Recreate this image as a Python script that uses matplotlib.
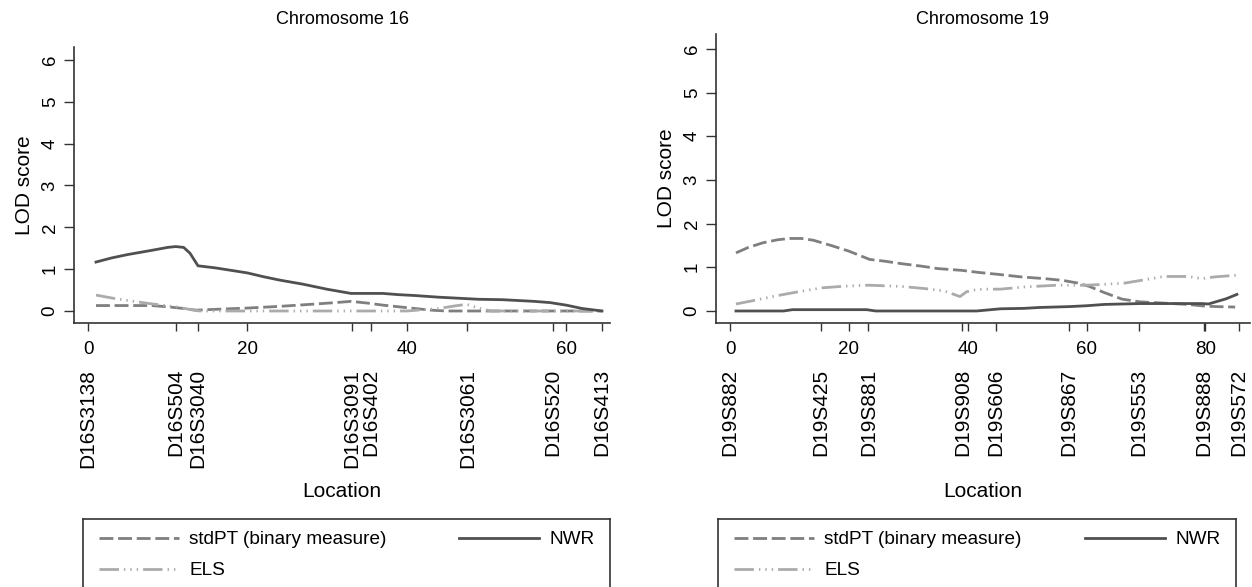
import numpy as np
import matplotlib.pyplot as plt
from matplotlib.lines import Line2D

plt.rcParams['font.family'] = ['Liberation Sans', 'DejaVu Sans']

W, H = 1252, 587

# ---- chromosome 16 ----
markers16 = ['D16S3138', 'D16S504', 'D16S3040', 'D16S3091', 'D16S402',
             'D16S3061', 'D16S520', 'D16S413']
markpos16 = [0, 11.0, 13.8, 33.1, 35.5, 47.6, 58.3, 64.5]

stdpt16_x = [1, 4, 8, 10, 12, 13.5, 16, 20, 24, 28, 31, 33, 35, 37, 39, 41, 43, 45, 50, 55, 60, 64.5]
stdpt16_y = [0.13, 0.13, 0.13, 0.10, 0.06, 0.02, 0.04, 0.07, 0.11, 0.16, 0.20, 0.23, 0.19, 0.14, 0.10, 0.06, 0.02, 0.0, 0.0, 0.0, 0.0, 0.0]

els16_x = [1, 3, 5, 8, 11, 13, 14, 20, 30, 40, 42, 44, 46, 47.5, 49, 50.5, 55, 60, 64.5]
els16_y = [0.38, 0.31, 0.25, 0.17, 0.10, 0.03, 0.0, 0.0, 0.0, 0.0, 0.03, 0.06, 0.12, 0.16, 0.07, 0.0, 0.0, 0.0, 0.0]

nwr16_x = [1, 3, 5, 8, 10, 11, 12, 12.8, 13.8, 16, 18, 20, 22, 24, 27, 30, 33, 37, 39, 41, 44, 46, 49, 52, 54, 56, 58, 60, 62, 64.5]
nwr16_y = [1.17, 1.27, 1.35, 1.45, 1.52, 1.54, 1.52, 1.38, 1.08, 1.03, 0.97, 0.91, 0.82, 0.74, 0.64, 0.52, 0.42, 0.42, 0.39, 0.37, 0.33, 0.31, 0.28, 0.27, 0.25, 0.23, 0.20, 0.14, 0.06, 0.0]

# ---- chromosome 19 ----
markers19 = ['D19S882', 'D19S425', 'D19S881', 'D19S908', 'D19S606',
             'D19S867', 'D19S553', 'D19S888', 'D19S572']
markpos19 = [0, 15.3, 23.3, 39.1, 44.7, 57.0, 68.8, 79.8, 85.6]

stdpt19_x = [1, 3, 5.5, 8, 10, 12, 14, 17, 20, 23.5, 26, 29, 32, 35, 39, 42, 45, 49, 53, 56, 58.5, 60.5, 63, 66, 69, 73, 77, 80, 82, 85]
stdpt19_y = [1.33, 1.45, 1.56, 1.63, 1.66, 1.66, 1.62, 1.50, 1.37, 1.18, 1.14, 1.08, 1.03, 0.97, 0.93, 0.88, 0.84, 0.78, 0.74, 0.70, 0.64, 0.56, 0.42, 0.27, 0.21, 0.18, 0.15, 0.11, 0.10, 0.09]

els19_x = [1, 4, 7.5, 11.5, 15.5, 19.5, 23.5, 29, 33, 36, 38.7, 39.8, 41, 42.7, 45.5, 49.5, 55, 60, 63, 66.5, 70, 73, 77, 79.5, 81.5, 85.5]
els19_y = [0.16, 0.24, 0.34, 0.44, 0.53, 0.57, 0.59, 0.56, 0.51, 0.46, 0.33, 0.44, 0.48, 0.50, 0.50, 0.55, 0.59, 0.59, 0.61, 0.64, 0.72, 0.79, 0.79, 0.74, 0.78, 0.82]

nwr19_x = [1, 9, 10.5, 23, 24.5, 41.5, 45.5, 49.5, 52, 57, 60, 63, 69, 73, 79.5, 80.5, 83.5, 85.3]
nwr19_y = [0, 0, 0.03, 0.03, 0.0, 0.0, 0.05, 0.06, 0.08, 0.10, 0.12, 0.15, 0.17, 0.17, 0.17, 0.16, 0.28, 0.38]

labels = ['stdPT (binary measure)', 'ELS', 'NWR']
colors = ['#7f7f7f', '#ababab', '#505050']
LW = 2.0
styles = [(0, (5, 1.7)), (0, (7, 1.8, 0.5, 1.8, 0.5, 1.8, 0.5, 1.8)), '-']

fig = plt.figure(figsize=(W / 100, H / 100), dpi=100)


def px_axes(x0, x1, y0, y1):
    # axes from pixel box (top-left origin)
    return fig.add_axes([x0 / W, (H - y1) / H, (x1 - x0) / W, (y1 - y0) / H])


def panel(ax, series, marks, mpos, xmajor, xlim, ylim, title, hpx, wpx):
    for (xs, ys), c, ls in zip(series, colors, styles):
        ax.plot(xs, ys, color=c, lw=LW, linestyle=ls)
    ax.set_xlim(*xlim)
    ax.set_ylim(*ylim)
    for s in ['top', 'right']:
        ax.spines[s].set_visible(False)
    for s in ['left', 'bottom']:
        ax.spines[s].set_linewidth(1.2)
        ax.spines[s].set_color('#333333')
    ax.set_xticks(xmajor)
    ax.set_xticks(mpos, minor=True)
    ax.set_yticks(range(0, 7))
    ax.tick_params(axis='x', which='both', length=5.8, width=1, color='#333333',
                   labelsize=13.5, pad=7.5)
    ax.tick_params(axis='y', length=7, width=1, color='#333333', labelsize=13.5,
                   labelrotation=90, pad=4)
    for lab in ax.get_yticklabels():
        lab.set_va('center')
    for m, p in zip(marks, mpos):
        ax.annotate(m, xy=(p, 0), xycoords=('data', 'axes fraction'),
                    xytext=(0, -33), textcoords='offset points',
                    rotation=90, ha='center', va='top', fontsize=15)
    ax.set_ylabel('LOD score', fontsize=15)
    ax.yaxis.set_label_coords(-40 / wpx, 0.5)
    ax.set_xlabel('Location', fontsize=15)
    ax.xaxis.set_label_coords(0.5, -(482 - 323) / hpx)
    pos = ax.get_position()
    fig.text(pos.x0 + pos.width / 2, 1 - 20 / H, title, ha='center', va='center',
             fontsize=13)


def legend_box(x0, x1):
    lax = px_axes(x0, x1, 519, 600)
    lax.set_xticks([])
    lax.set_yticks([])
    for s in lax.spines.values():
        s.set_linewidth(1.2)
        s.set_color('#333333')
    wl, hl = x1 - x0, 600 - 519
    handles = [Line2D([], [], color=c, lw=LW, linestyle=ls) for c, ls in zip(colors, styles)]
    lax.legend(handles, labels, ncol=2, mode='expand', loc='upper left',
               bbox_to_anchor=(16 / wl, 1 - 12 / hl, (wl - 31) / wl, 0),
               frameon=False, borderpad=0, borderaxespad=0, handlelength=4.2,
               handletextpad=0.55, labelspacing=0.72, fontsize=13.7)


ax1 = px_axes(74, 610, 47, 323)
panel(ax1, [(stdpt16_x, stdpt16_y), (els16_x, els16_y), (nwr16_x, nwr16_y)],
      markers16, markpos16, [0, 20, 40, 60], (-1.76, 65.5), (-0.287, 6.31),
      'Chromosome 16', 323 - 47, 610 - 74)

ax2 = px_axes(716, 1250, 34, 323)
panel(ax2, [(stdpt19_x, stdpt19_y), (els19_x, els19_y), (nwr19_x, nwr19_y)],
      markers19, markpos19, [0, 20, 40, 60, 80], (-2.36, 87.5), (-0.275, 6.34),
      'Chromosome 19', 323 - 34, 1250 - 716)

legend_box(83, 610)
legend_box(718, 1236)

fig.savefig('out.png', dpi=100)
